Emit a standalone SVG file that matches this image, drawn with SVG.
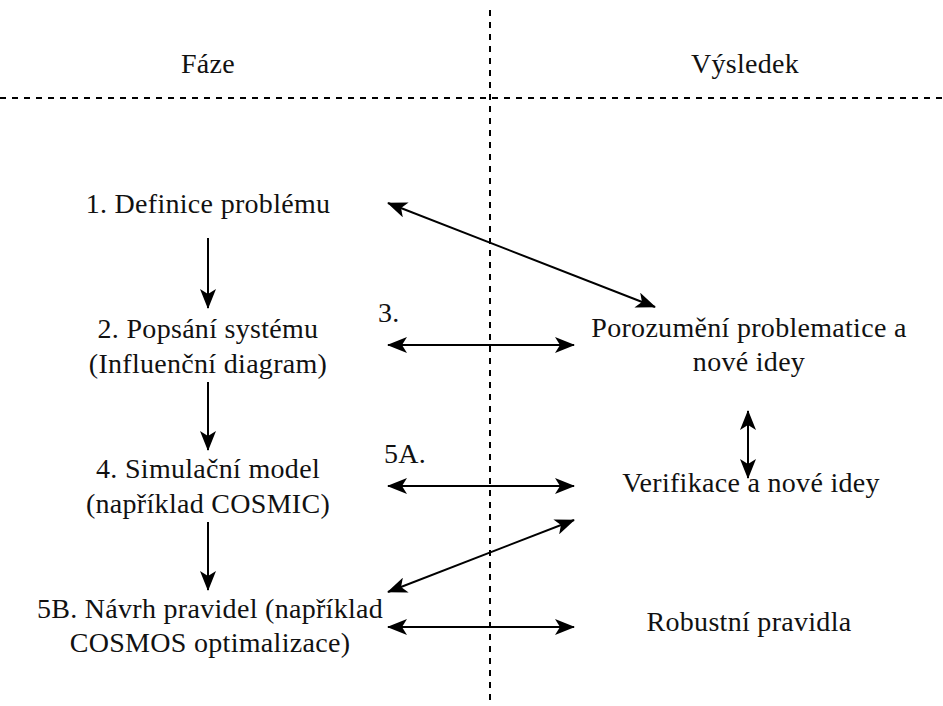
<svg xmlns="http://www.w3.org/2000/svg" width="943" height="706" viewBox="0 0 943 706">
<defs>
<marker id="ah" viewBox="0 0 20 16" refX="19" refY="8" markerWidth="20" markerHeight="16" markerUnits="userSpaceOnUse" orient="auto-start-reverse">
<path d="M0,0 L20,8 L0,16 L5,8 Z" fill="#000"/>
</marker>
<style>
text{font-family:"Liberation Serif","DejaVu Serif",serif;font-size:28px;letter-spacing:0.3px;fill:#111;text-anchor:middle}
.lbl{text-anchor:start}
.c{stroke:#000;stroke-width:2;fill:none}
.d{stroke:#000;stroke-width:2;stroke-dasharray:6 6;fill:none}
</style>
</defs>
<rect width="943" height="706" fill="#fff"/>
<g id="grid">
<line class="d" x1="490" y1="10" x2="490" y2="706"/>
<line class="d" x1="0" y1="98" x2="943" y2="98"/>
</g>
<g id="hdr-faze"><text x="208" y="73">Fáze</text></g>
<g id="hdr-vysledek"><text x="745" y="73">Výsledek</text></g>
<g id="n1"><text x="208" y="213">1. Definice problému</text></g>
<g id="n2"><text x="208" y="338">2. Popsání systému</text><text x="208" y="373">(Influenční diagram)</text></g>
<g id="n4"><text x="208" y="478">4. Simulační model</text><text x="208" y="513">(například COSMIC)</text></g>
<g id="n5b"><text x="210" y="618">5B. Návrh pravidel (například</text><text x="210" y="652">COSMOS optimalizace)</text></g>
<g id="r1"><text x="749" y="337">Porozumění problematice a</text><text x="749" y="371">nové idey</text></g>
<g id="r2"><text x="751" y="492">Verifikace a nové idey</text></g>
<g id="r3"><text x="749" y="631">Robustní pravidla</text></g>
<g id="lbl3"><text class="lbl" x="378" y="322">3.</text></g>
<g id="lbl5a"><text class="lbl" x="384" y="463">5A.</text></g>
<g id="connectors">
<line class="c" x1="208" y1="238" x2="208" y2="308" marker-end="url(#ah)"/>
<line class="c" x1="208" y1="382" x2="208" y2="450" marker-end="url(#ah)"/>
<line class="c" x1="208" y1="522" x2="208" y2="590" marker-end="url(#ah)"/>
<line class="c" x1="388" y1="203" x2="655" y2="307" marker-start="url(#ah)" marker-end="url(#ah)"/>
<line class="c" x1="388" y1="345" x2="574" y2="345" marker-start="url(#ah)" marker-end="url(#ah)"/>
<line class="c" x1="388" y1="486" x2="574" y2="486" marker-start="url(#ah)" marker-end="url(#ah)"/>
<line class="c" x1="388" y1="592" x2="574" y2="520" marker-start="url(#ah)" marker-end="url(#ah)"/>
<line class="c" x1="388" y1="627" x2="574" y2="627" marker-start="url(#ah)" marker-end="url(#ah)"/>
<line class="c" x1="748" y1="411" x2="748" y2="478" marker-start="url(#ah)" marker-end="url(#ah)"/>
</g>
</svg>
